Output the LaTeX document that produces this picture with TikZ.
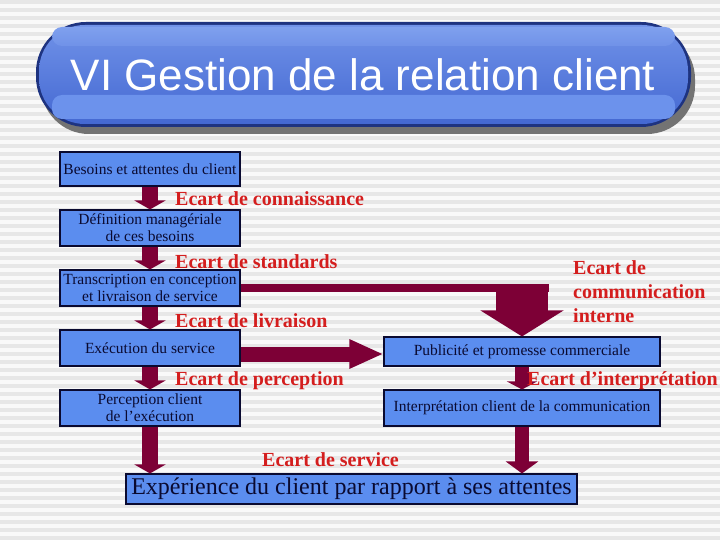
\documentclass[tikz,border=0pt]{standalone}
\usepackage{fontspec}
\setmainfont{Liberation Serif}
\newfontfamily\titlefont{Liberation Sans}
\usepackage{xcolor}
\definecolor{panel}{HTML}{5B8DEF}
\definecolor{edge}{HTML}{0A0A30}
\definecolor{wine}{HTML}{7D0036}
\definecolor{gapred}{HTML}{D41E1E}
\definecolor{stripe}{HTML}{E7E7E7}
\definecolor{paper}{HTML}{F9F9F9}
\definecolor{bannertop}{HTML}{7092E8}
\definecolor{bannermid}{HTML}{4468D2}
\definecolor{bannerband}{HTML}{7FA0EE}
\definecolor{bannerlow}{HTML}{6C92EC}
\definecolor{bannerdark}{HTML}{1E3380}
\usepackage{tikz}
\usetikzlibrary{arrows.meta,calc}

\begin{document}
\begin{tikzpicture}[x=1pt,y=-1pt,
  every node/.style={font=\fontsize{15.5}{17}\selectfont},
  box/.style={draw=edge,line width=1.1pt,fill=panel,rectangle,inner sep=0pt,align=center,text=edge},
  gap/.style={anchor=west,text=gapred,inner sep=0pt,align=left,font=\fontsize{20}{24}\selectfont\bfseries},
  flow/.style={wine,line width=16pt,-{Triangle[length=9pt,width=31pt]}}]
\useasboundingbox (0,0) rectangle (720,540);
% striped background
\fill[paper] (0,0) rectangle (720,540);
\foreach \y in {0,8,...,536}
  \fill[stripe] (0,\y) rectangle (720,\y+4);
% title banner
\fill[black!55,rounded corners=48] (41,31) rectangle (695,134);
\fill[bannerdark,rounded corners=50] (36,22) rectangle (691,127);
\shade[top color=bannertop,bottom color=bannermid,rounded corners=46] (39,25) rectangle (688,124);
\shade[top color=bannerband,bottom color=bannertop,rounded corners=10] (52,27) rectangle (675,46);
\fill[bannerlow,rounded corners=10] (52,95) rectangle (675,119);
\node[text=white,font=\titlefont\fontsize{44}{44}\selectfont] (title) at (363,75) {VI Gestion de la relation client};

\node[box,minimum width=180,minimum height=34] (besoins) at (150,169) {Besoins et attentes du client};
\node[box,minimum width=180,minimum height=36] (defin) at (150,228) {Définition managériale\\de ces besoins};
\node[box,minimum width=180,minimum height=36] (trans) at (150,288) {Transcription en conception\\et livraison de service};
\node[box,minimum width=180,minimum height=36] (exec) at (150,348) {Exécution du service};
\node[box,minimum width=180,minimum height=36] (percep) at (150,408) {Perception client\\de l’exécution};
\node[box,minimum width=276,minimum height=29] (pub) at (522,351.5) {Publicité et promesse commerciale};
\node[box,minimum width=276,minimum height=36] (interp) at (522,408) {Interprétation client de la communication};
\node[box,minimum width=451,minimum height=30,font=\fontsize{24}{24}\selectfont] (exp) at (351.5,489) {Expérience du client par rapport à ses attentes};

\draw[flow] (besoins.south) -- (defin.north);
\draw[flow] (defin.south) -- (trans.north);
\draw[flow] (trans.south) -- (exec.north);
\draw[flow] (exec.south) -- (percep.north);
\draw[flow] (percep.south) -- (percep.south |- exp.north);
\coordinate (bend) at (pub.north |- trans.east);
\draw[wine,line width=8pt] (trans.east) -- ($(bend)+(27,0)$);
\draw[wine,line width=52pt,-{Triangle[length=26pt,width=82pt]}] ($(bend)+(0,-4)$) -- (pub.north);
\coordinate (ea) at ($(exec.east)+(0,6)$);
\draw[flow,line width=15pt,-{Triangle[length=34pt,width=27pt]}] (ea) -- (ea -| pub.west);
\draw[flow,line width=14pt,-{Triangle[length=8pt,width=30pt]}] (pub.south) -- (interp.north);
\draw[flow,line width=14pt,-{Triangle[length=12pt,width=32pt]}] (interp.south) -- (interp.south |- exp.north);

\node[gap] (g1) at (175,199) {Ecart de connaissance};
\node[gap] (g2) at (175,262) {Ecart de standards};
\node[gap] (g3) at (175,321) {Ecart de livraison};
\node[gap] (g4) at (175,381) {Ecart de perception};
\node[gap] (g5) at (573,292) {Ecart de\\communication\\interne};
\node[gap] (g6) at (527,381) {Ecart d’interprétation};
\node[gap] (g7) at (262,460) {Ecart de service};
\end{tikzpicture}
\end{document}
